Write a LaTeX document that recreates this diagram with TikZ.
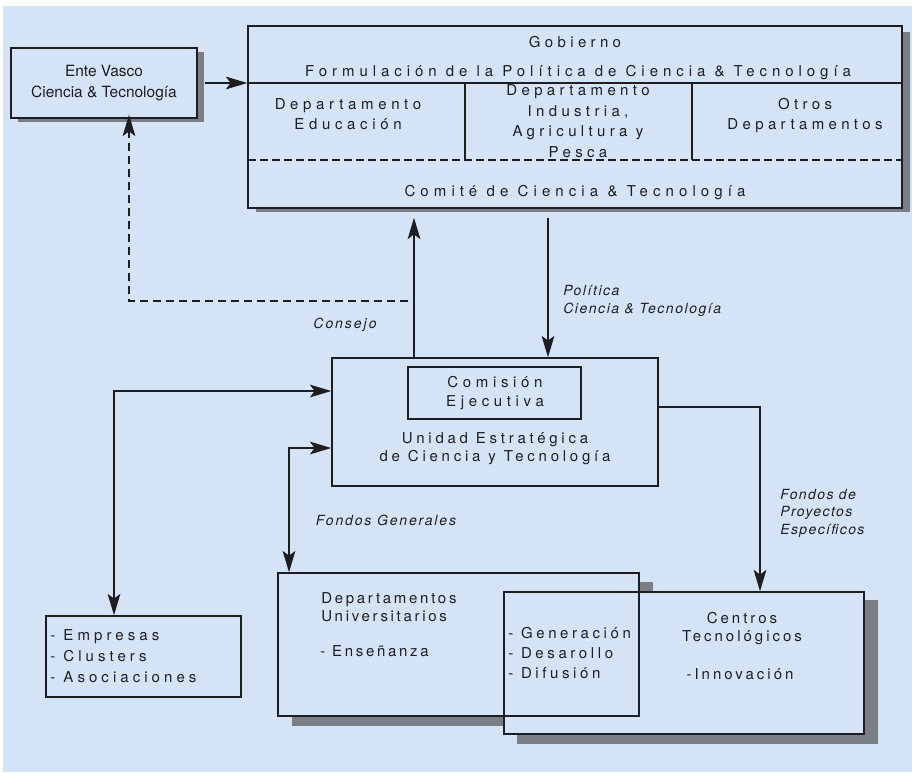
\documentclass[tikz,border=0pt]{standalone}
\usepackage{fontspec}
\setmainfont{TeX Gyre Heros}
\usetikzlibrary{arrows.meta,fit,calc}

\definecolor{paper}{RGB}{213,227,246}
\definecolor{ink}{RGB}{30,30,34}
\definecolor{shadowc}{RGB}{122,126,134}

% spaced upright text: letter spacing, baseline skip
\newcommand\bx[2]{\fontsize{11.25pt}{#2}\selectfont\addfontfeatures{LetterSpace=#1}}
% italic labels on the connectors
\newcommand\lab[2]{\fontsize{10.5pt}{#2}\selectfont\itshape\addfontfeatures{LetterSpace=#1}}

\tikzset{
  frame/.style={draw=ink, line width=1.1pt, fill=paper, inner sep=0pt},
  outline/.style={draw=ink, line width=1.1pt, inner sep=0pt},
  bare/.style={fill=paper, inner sep=0pt},
  shade/.style={fill=shadowc},
  txt/.style={text=ink, inner sep=0pt, align=center},
  txtl/.style={text=ink, inner sep=0pt, align=left, anchor=west},
  arr/.style={draw=ink, line width=1.1pt, -{Stealth[length=16pt,width=9.5pt,inset=3.5pt]}},
  arrboth/.style={draw=ink, line width=1.1pt, {Stealth[length=16pt,width=9.5pt,inset=3.5pt]}-{Stealth[length=16pt,width=9.5pt,inset=3.5pt]}},
  dasharr/.style={draw=ink, line width=1.1pt, dash pattern=on 6pt off 3.75pt, -{Stealth[length=16pt,width=9.5pt,inset=3.5pt]}},
  rule/.style={draw=ink, line width=1.1pt},
  drule/.style={draw=ink, line width=1.1pt, dash pattern=on 6pt off 3pt},
}

\begin{document}
\begin{tikzpicture}[x=0.75pt,y=-0.75pt]
\useasboundingbox (0,0) rectangle (912,772);
\fill[white] (0,0) rectangle (912,772);
\fill[paper] (3,6) rectangle (912,772);

% ---- shadows ----
\fill[shade] (18,52) rectangle (204,122);
\fill[shade] (256,32) rectangle (910,212);
\fill[shade] (292,582) rectangle (653,726);
\fill[shade] (517,600) rectangle (878,744);

% ---- boxes ----
\node[frame, fit={(11,48) (197,118)}] (ente) {};
\node[frame, fit={(248,26) (902,208)}] (gob) {};
\node[frame, fit={(332,358) (658,486)}] (uni) {};
\node[frame, fit={(408,367) (581,419)}] (com) {};
\node[frame, fit={(46,616) (241,697)}] (emp) {};
\node[bare, fit={(278,573) (639,716)}] {};
\node[frame, fit={(504,592) (864,734)}] (cen) {};
% university box outline sits over the technology centres box
\node[outline, fit={(278,573) (639,716)}] (dept) {};

% inner divisions of the government box
\coordinate (ga) at (248,83);
\coordinate (gb) at (248,160);
\coordinate (v1) at (465,83);
\coordinate (v2) at (692,83);
\draw[rule] (ga) -- (ga -| gob.east);
\draw[drule] (gb) -- (gb -| gob.east);
\draw[rule] (v1) -- (v1 |- gb);
\draw[rule] (v2) -- (v2 |- gb);

% ---- texts ----
\node[txt, font=\fontsize{11.6pt}{15.75pt}\selectfont] at (104,83) {Ente Vasco\\Ciencia \& Tecnología};
\node[txt, font=\bx{29}{15pt}] at (575,42) {Gobierno};
\node[txt, font=\bx{33}{15pt}] at (578,73) {Formulación de la Política de Ciencia \& Tecnología};
\node[txt, font=\bx{31}{15pt}] at (348,114) {Departamento\\Educación};
\node[txt, font=\bx{29}{15.5pt}] at (578,121) {Departamento\\Industria,\\Agricultura y\\Pesca};
\node[txt, font=\bx{29}{15pt}] at (805,116) {Otros\\Departamentos};
\node[txt, font=\bx{34}{15pt}] at (575,193) {Comité de Ciencia \& Tecnología};

\node[txt, font=\bx{31}{14.25pt}] at (495,393) {Comisión\\Ejecutiva};
\node[txt, font=\bx{25}{13.5pt}] at (495,449) {Unidad Estratégica\\de Ciencia y Tecnología};

\node[txtl, font=\bx{27}{15.75pt}] at (50,656) {- Empresas\\- Clusters\\- Asociaciones};
\node[txtl, font=\bx{18}{13.5pt}] at (321,607) {Departamentos\\Universitarios};
\node[txtl, font=\bx{18}{13.5pt}] at (320,651) {- Enseñanza};
\node[txtl, font=\bx{24}{15pt}] at (508,653) {- Generación\\- Desarollo\\- Difusión};
\node[txt, font=\bx{20}{13.5pt}] at (742,629) {Centros\\Tecnológicos};
\node[txt, font=\bx{20}{13.5pt}] at (740,674) {-Innovación};

\node[txtl, font=\lab{11}{13.5pt}] at (563,301) {Política\\Ciencia \& Tecnología};
\node[txt, font=\lab{14}{13.5pt}] at (345,325) {Consejo};
\node[txt, font=\lab{13}{13.5pt}] at (386,520) {Fondos Generales};
\node[txtl, font=\lab{10}{13.2pt}] at (780,513) {Fondos de\\Proyectos\\Específicos};

% ---- connectors ----
\draw[arr, shorten <=5.25pt] (ente.east) -- (ente.east -| gob.west);

\coordinate (cj) at (408,301);
\coordinate (dk) at (129,301);
\draw[dasharr, shorten >=-3pt] (cj) -- (dk) -- (dk |- ente.south);

\coordinate (upx) at (414,301);
\draw[arr, shorten >=6.75pt] (uni.north -| upx) -- (gob.south -| upx);

\coordinate (dnx) at (548,301);
\draw[arr, shorten <=6.75pt] (gob.south -| dnx) -- (uni.north -| dnx);

\coordinate (l1) at (114,391);
\draw[arrboth] (uni.west |- l1) -- (l1) -- (l1 |- emp.north);

\coordinate (l2) at (289,448);
\draw[arrboth] (uni.west |- l2) -- (l2) -- (l2 |- dept.north);

\coordinate (r1) at (760,407);
\draw[arr] (uni.east |- r1) -- (r1) -- (r1 |- cen.north);
\end{tikzpicture}
\end{document}
